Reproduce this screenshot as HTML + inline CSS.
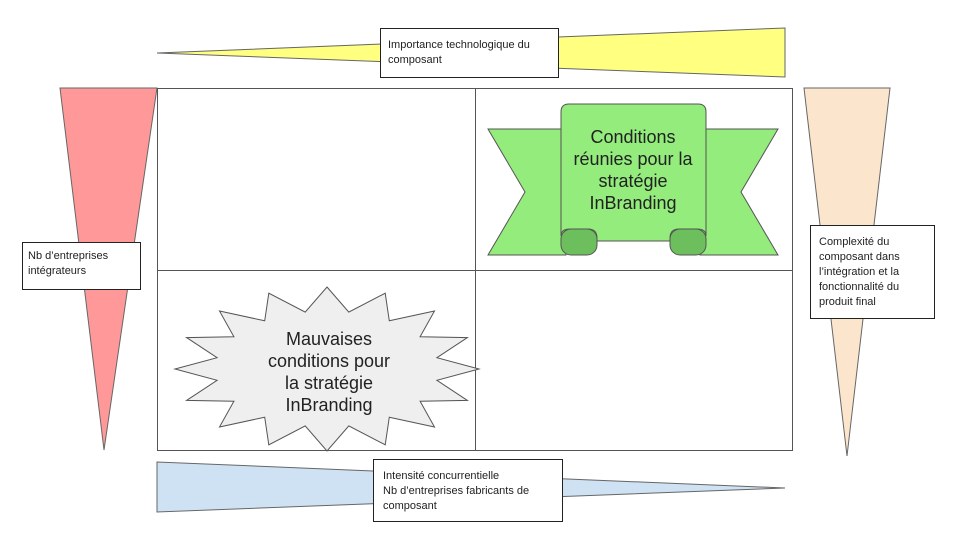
<!DOCTYPE html>
<html><head><meta charset="utf-8"><style>
body{margin:0;background:#fff;}
svg{display:block;font-family:"Liberation Sans",Arial,sans-serif;}
</style></head><body>
<svg width="960" height="540" viewBox="0 0 960 540">
<!-- triangles -->
<polygon points="157,53 785,28 785,77" fill="#ffff80" stroke="#666" stroke-width="1"/>
<polygon points="60,88 157,88 104,450" fill="#f99" stroke="#666" stroke-width="1"/>
<polygon points="804,88 890,88 847,456" fill="#fce5cd" stroke="#666" stroke-width="1"/>
<polygon points="157,462 157,512 785,488" fill="#cfe2f3" stroke="#666" stroke-width="1"/>
<!-- grid -->
<rect x="157.5" y="88.5" width="635" height="362" fill="#fff" stroke="#555" stroke-width="1"/>
<line x1="475.5" y1="88" x2="475.5" y2="450" stroke="#555"/>
<line x1="157" y1="270.5" x2="792" y2="270.5" stroke="#555"/>
<!-- ribbon -->
<polygon points="488,129 566,129 566,255 488,255 525,192" fill="#93ec7c" stroke="#555"/>
<polygon points="778,129 700,129 700,255 778,255 741,192" fill="#93ec7c" stroke="#555"/>
<rect x="561" y="229" width="36" height="26" rx="10" fill="#6cbf5c" stroke="#555"/>
<rect x="670" y="229" width="36" height="26" rx="10" fill="#6cbf5c" stroke="#555"/>
<path d="M561,112 Q561,104 569,104 H698 Q706,104 706,112 V236 Q706,229 697,229 H679 Q670,229 670,238 V241 H597 V238 Q597,229 588,229 H570 Q561,229 561,236 Z" fill="#93ec7c" stroke="#555"/>
<g font-size="18" fill="#222" text-anchor="middle">
<text x="633" y="143">Conditions</text>
<text x="633" y="165">réunies pour la</text>
<text x="633" y="187">stratégie</text>
<text x="633" y="209">InBranding</text>
</g>
<!-- star -->
<polygon points="327,287 348.8,312.1 385.2,293.2 389.3,320.8 434.5,311 420.1,336.8 467.4,337.6 436.9,357.7 479,369 436.9,380.3 467.4,400.4 420.1,401.2 434.5,427 389.3,417.2 385.2,444.8 348.8,425.9 327,451 305.2,425.9 268.8,444.8 264.7,417.2 219.5,427 233.9,401.2 186.6,400.4 217.1,380.3 175,369 217.1,357.7 186.6,337.6 233.9,336.8 219.5,311 264.7,320.8 268.8,293.2 305.2,312.1" fill="#efefef" stroke="#555"/>
<g font-size="18" fill="#222" text-anchor="middle">
<text x="329" y="345">Mauvaises</text>
<text x="329" y="367">conditions pour</text>
<text x="329" y="389">la stratégie</text>
<text x="329" y="411">InBranding</text>
</g>
<!-- text boxes -->
<rect x="380.5" y="28.5" width="178" height="49" fill="#fff" stroke="#222"/>
<g font-size="11" fill="#222"><text x="388" y="48">Importance technologique du</text><text x="388" y="63">composant</text></g>
<rect x="22.5" y="242.5" width="118" height="47" fill="#fff" stroke="#222"/>
<g font-size="11" fill="#222"><text x="28" y="259">Nb d’entreprises</text><text x="28" y="274">intégrateurs</text></g>
<rect x="810.5" y="225.5" width="124" height="93" fill="#fff" stroke="#222"/>
<g font-size="11" fill="#222"><text x="819" y="245">Complexité du</text><text x="819" y="260">composant dans</text><text x="819" y="275">l’intégration et la</text><text x="819" y="290">fonctionnalité du</text><text x="819" y="305">produit final</text></g>
<rect x="373.5" y="459.5" width="189" height="62" fill="#fff" stroke="#222"/>
<g font-size="11" fill="#222"><text x="383" y="479">Intensité concurrentielle</text><text x="383" y="494">Nb d’entreprises fabricants de</text><text x="383" y="509">composant</text></g>
</svg>
</body></html>
